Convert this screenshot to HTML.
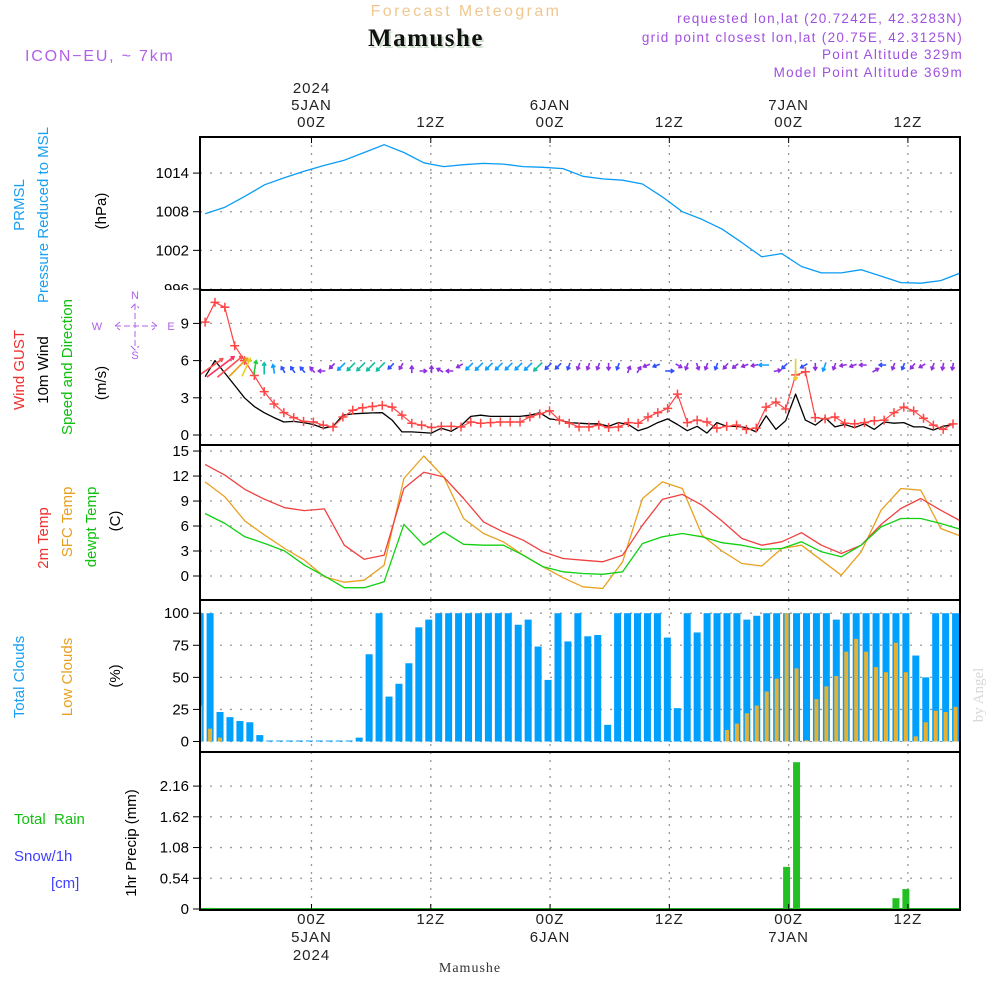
<!DOCTYPE html>
<html><head><meta charset="utf-8"><title>Forecast Meteogram Mamushe</title>
<style>
html,body{margin:0;padding:0;background:#fff;}
svg{display:block;}
text{font-family:"Liberation Sans",sans-serif;}
</style></head>
<body>
<svg id="chart" xmlns="http://www.w3.org/2000/svg" width="1000" height="1000" viewBox="0 0 1000 1000">
<defs><clipPath id="plotclip"><rect x="200" y="130" width="760" height="790"/></clipPath></defs>
<!-- header -->
<text x="466" y="16" text-anchor="middle" font-size="16" fill="#f0c890" letter-spacing="2.4">Forecast Meteogram</text>
<text x="428" y="48" text-anchor="middle" font-size="25" font-weight="bold" fill="#cfe0cf" letter-spacing="1.5" style="font-family:'Liberation Serif',serif">Mamushe</text>
<text x="426" y="46" text-anchor="middle" font-size="25" font-weight="bold" fill="#111" letter-spacing="1.5" style="font-family:'Liberation Serif',serif">Mamushe</text>
<text x="25" y="61" font-size="16" fill="#b060e8" letter-spacing="1.8">ICON−EU, ~ 7km</text>
<g fill="#a050e0" font-size="13.5" text-anchor="end" letter-spacing="1.3">
<text x="963" y="23">requested lon,lat (20.7242E, 42.3283N)</text>
<text x="963" y="42">grid point closest lon,lat (20.75E, 42.3125N)</text>
<text x="963" y="59">Point Altitude 329m</text>
<text x="963" y="77">Model Point Altitude 369m</text>
</g>
<!-- left titles -->
<g font-size="15">
<text transform="translate(24,205) rotate(-90)" text-anchor="middle" fill="#19a0f0">PRMSL</text>
<text transform="translate(48,215) rotate(-90)" text-anchor="middle" fill="#19a0f0">Pressure Reduced to MSL</text>
<text transform="translate(106,211) rotate(-90)" text-anchor="middle" fill="#000">(hPa)</text>
<text transform="translate(24,370) rotate(-90)" text-anchor="middle" fill="#f03030">Wind GUST</text>
<text transform="translate(48,370) rotate(-90)" text-anchor="middle" fill="#000">10m Wind</text>
<text transform="translate(72,367) rotate(-90)" text-anchor="middle" fill="#10c010">Speed and Direction</text>
<text transform="translate(106,383) rotate(-90)" text-anchor="middle" fill="#000">(m/s)</text>
<text transform="translate(48,538) rotate(-90)" text-anchor="middle" fill="#f03030">2m Temp</text>
<text transform="translate(72,522) rotate(-90)" text-anchor="middle" fill="#e8a020">SFC Temp</text>
<text transform="translate(96,527) rotate(-90)" text-anchor="middle" fill="#10c010">dewpt Temp</text>
<text transform="translate(120,521) rotate(-90)" text-anchor="middle" fill="#000">(C)</text>
<text transform="translate(24,677) rotate(-90)" text-anchor="middle" fill="#19a0f0">Total Clouds</text>
<text transform="translate(72,677) rotate(-90)" text-anchor="middle" fill="#e8a020">Low Clouds</text>
<text transform="translate(120,676) rotate(-90)" text-anchor="middle" fill="#000">(%)</text>
<text x="14" y="824" fill="#10c010" xml:space="preserve">Total  Rain</text>
<text x="14" y="861" fill="#4040ff">Snow/1h</text>
<text x="51" y="888" fill="#4040ff">[cm]</text>
<text transform="translate(136,843) rotate(-90)" text-anchor="middle" fill="#000">1hr Precip (mm)</text>
</g>
<!-- compass -->
<g fill="#b060e8" stroke="none" font-size="11">
<text x="135" y="299" text-anchor="middle">N</text>
<text x="135" y="359" text-anchor="middle">S</text>
<text x="97" y="330" text-anchor="middle">W</text>
<text x="171" y="330" text-anchor="middle">E</text>
<path d="M115 326 H157 M135 304 V350 M120 322 L115 326 L120 330 M152 322 L157 326 L152 330 M131 308 L135 304 L139 308 M131 346 L135 350 L139 346" stroke="#b060e8" stroke-width="1" fill="none" stroke-dasharray="6,3"/>
</g>
<text transform="translate(983,695) rotate(-90)" text-anchor="middle" font-size="15" fill="#d8d8d8" style="font-family:'Liberation Serif',serif">by Angel</text>
<text x="470" y="972" text-anchor="middle" font-size="14" style="font-family:'Liberation Serif',serif" fill="#333" letter-spacing="1">Mamushe</text>
<g id="grid"></g>
<g id="marks" clip-path="url(#plotclip)"></g>
<g id="frames"></g>
<g id="labels"></g>
</svg>
<script>
// ---- data ----
const pressVals=[1007.7,1008.7,1010.4,1012.2,1013.3,1014.3,1015.2,1016,1017.2,1018.4,1017.2,1015.6,1015,1015.3,1015.5,1015.4,1015,1014.9,1014.7,1013.5,1013.1,1012.9,1012.3,1010.3,1008,1006.8,1005.3,1003.2,1001,1001.5,999.5,998.5,998.5,999,998,997,996.9,997.3,998.5];
const temp2m=[13.4,12.1,10.4,9.2,8.2,7.85,8.05,3.7,2.0,2.5,10.5,12.45,11.9,9.3,6.5,5.3,4.3,2.9,2.1,1.9,1.7,2.5,6.1,9.2,9.8,8.5,6.6,4.5,3.7,4.1,5.2,3.7,2.7,3.7,6.2,8.1,9.3,7.9,6.6];
const tempSfc=[11.3,9.5,6.6,4.9,3.3,1.9,-0.1,-0.75,-0.5,1.3,11.7,14.4,11.9,6.9,5.1,4.1,2.5,1.1,-0.2,-1.3,-1.5,1.7,9.3,11.3,10.5,4.9,3.0,1.5,1.2,3.3,3.7,1.9,0.1,2.9,7.9,10.5,10.3,5.7,4.8];
const tempDew=[7.5,6.3,4.7,3.9,3.0,1.3,0.0,-1.4,-1.4,-0.7,6.2,3.7,5.3,3.8,3.7,3.7,2.5,1.1,0.5,0.3,0.2,0.5,3.9,4.7,5.1,4.7,4.0,3.7,3.2,3.3,4.1,2.9,2.3,3.7,5.9,6.9,6.9,6.3,5.6];
const gustVals=[9.1,10.7,10.3,7.2,6.0,4.8,3.5,2.5,1.8,1.4,1.1,1.05,0.8,0.65,1.45,2.0,2.2,2.3,2.4,2.25,1.6,0.95,0.8,0.6,0.7,0.7,0.65,1.05,0.95,1.0,1.05,1.05,1.05,1.45,1.7,1.95,1.2,0.95,0.65,0.65,0.8,0.6,0.65,1.0,0.95,1.45,1.8,2.15,3.3,1.0,1.2,1.05,0.55,0.7,0.8,0.45,0.55,2.25,2.65,2.1,4.85,5.1,1.4,1.3,1.45,0.95,0.9,1.0,1.15,1.2,1.8,2.25,1.95,1.35,0.8,0.45,0.9];
const windVals=[4.7,6.0,5.0,4.0,3.0,2.3,1.8,1.4,1.05,1.1,1.0,0.85,0.55,0.7,1.6,1.7,1.75,1.78,1.8,1.2,0.25,0.25,0.2,0.15,0.55,0.3,0.75,1.5,1.6,1.5,1.5,1.5,1.5,1.6,1.8,1.3,1.2,1.0,0.95,0.9,0.9,0.7,1.0,0.85,0.35,0.6,1.0,1.3,0.85,0.35,0.7,0.15,1.0,0.7,0.7,0.6,0.25,1.55,0.45,1.15,3.3,1.2,0.8,1.4,0.65,0.85,0.6,0.9,0.45,1.05,0.95,1.0,0.65,0.65,0.4,0.7,0.85];
const windDir=[55,53,50,45,25,10,0,-10,-30,-35,-40,-40,-90,-135,225,225,225,225,225,225,-150,0,90,0,-60,-90,-120,225,225,225,225,225,225,225,225,225,225,200,200,200,200,180,200,20,30,250,250,90,120,200,160,200,200,220,230,250,260,270,80,225,180,240,180,200,200,260,250,270,60,270,200,200,220,240,200,190,190];
const cloudTotal=[100,100,23,19,16,15,5,0,0,0,0,0,0,0,0,0,3,68,100,35,45,61,89,95,100,100,100,100,100,100,100,100,91,95,74,48,100,78,100,82,83,13,100,100,100,100,100,81,26,100,85,100,100,100,100,95,98,100,100,100,100,100,100,100,95,100,100,100,100,100,100,100,67,50,100,100,100];
const cloudLow=[28,10,3,0,0,0,0,0,0,0,0,0,0,0,0,0,0,0,0,0,0,0,0,0,0,0,0,0,0,0,0,0,0,0,0,0,0,0,0,0,0,0,0,0,0,0,0,0,0,0,0,0,0,9,14,22,28,39,49,100,57,1,33,43,51,70,80,70,58,54,77,54,4,15,24,23,27];
const precipVals=[0,0.02,0,0,0,0,0,0,0,0,0,0,0,0,0,0,0,0,0,0,0,0,0,0,0,0,0,0,0,0,0,0,0,0,0,0,0,0,0,0,0,0,0,0,0,0,0,0,0,0,0,0,0,0,0,0,0,0,0,0.74,2.58,0,0,0,0,0,0,0,0,0,0.19,0.35,0,0,0,0,0];
const pressTicks=[996,1002,1008,1014];
const windTicks=[0,3,6,9];
const tempTicks=[0,3,6,9,12,15];
const cloudTicks=[0,25,50,75,100];
const precipTicks=[0,0.54,1.08,1.62,2.16];
const timeTickHours=[0,12,24,36,48,60];
const timeTickTop=[["2024","5JAN","00Z"],["12Z"],["6JAN","00Z"],["12Z"],["7JAN","00Z"],["12Z"]];
const timeTickBottom=[["00Z","5JAN","2024"],["12Z"],["00Z","6JAN"],["12Z"],["00Z","7JAN"],["12Z"]];

// ---- scales ----
const START=-10.7;
const X=t=>311.5+9.94*t;
const lineT=i=>START+i*2;
const hourT=i=>START+i*0.99;
const barT=i=>START+i;
const Yp=v=>289-(v-996)*6.44;
const Yw=v=>435-v*12.4;
const Yt=v=>576-v*8.33;
const Yc=v=>741.5-v*1.283;
const Yr=v=>909-v*56.9;
const panels=[
 {name:'pressure',top:137,bot:290,ticks:pressTicks,y:Yp,fmt:v=>String(v)},
 {name:'wind',top:290,bot:445,ticks:windTicks,y:Yw,fmt:v=>String(v)},
 {name:'temperature',top:445,bot:600,ticks:tempTicks,y:Yt,fmt:v=>String(v)},
 {name:'clouds',top:600,bot:752,ticks:cloudTicks,y:Yc,fmt:v=>String(v)},
 {name:'precip',top:752,bot:910,ticks:precipTicks,y:Yr,fmt:v=>v===0?'0':v.toFixed(2)}
];
const NS='http://www.w3.org/2000/svg';
function mk(tag,attrs,parent){const e=document.createElementNS(NS,tag);for(const k in attrs)e.setAttribute(k,attrs[k]);parent.appendChild(e);return e;}
const grid=document.getElementById('grid'),marks=document.getElementById('marks'),frames=document.getElementById('frames'),labels=document.getElementById('labels');

panels.forEach(p=>{
 timeTickHours.forEach(h=>{
  const l=mk('line',{x1:X(h),x2:X(h),y1:p.top,y2:p.bot,stroke:'#999','stroke-width':1.3,'stroke-dasharray':'2,6'},grid);
  
  
 });
 p.ticks.forEach(v=>{
  const y=p.y(v);
  const l=mk('line',{x1:200,x2:960,y1:y,y2:y,stroke:'#999','stroke-width':1.3,'stroke-dasharray':'2,8'},grid);
  
  
  mk('line',{x1:193,x2:200,y1:y,y2:y,stroke:'#000','stroke-width':1},frames);
  const t=mk('text',{x:189,y:y+5,'text-anchor':'end','font-size':15,fill:'#000'},labels);
  t.textContent=p.fmt(v);
  
  
 });
 const r=mk('rect',{x:200,y:p.top,width:760,height:p.bot-p.top,fill:'none',stroke:'#000','stroke-width':2},frames);
 
 
});
mk('rect',{x:150,y:290,width:45,height:6,fill:'#fff'},labels);

timeTickHours.forEach((h,i)=>{
 const x=X(h);
 const top=timeTickTop[i];
 top.forEach((s,j)=>{
  const t=mk('text',{x:x,y:127-(top.length-1-j)*17,'text-anchor':'middle','font-size':15,fill:'#222','letter-spacing':1},labels);
  t.textContent=s;
  
  
 });
 mk('line',{x1:x,x2:x,y1:137,y2:143,stroke:'#000'},frames);
 timeTickBottom[i].forEach((s,j)=>{
  const t=mk('text',{x:x,y:924+j*18,'text-anchor':'middle','font-size':15,fill:'#222','letter-spacing':1},labels);
  t.textContent=s;
  
  
 });
 mk('line',{x1:x,x2:x,y1:904,y2:910,stroke:'#000'},frames);
});

function poly(vals,tf,yf,color,w,name){
 const pts=vals.map((v,i)=>X(tf(i)).toFixed(1)+','+yf(v).toFixed(1)).join(' ');
 const pl=mk('polyline',{points:pts,fill:'none',stroke:color,'stroke-width':w,'stroke-linejoin':'round'},marks);
 
 
}
poly(pressVals,lineT,Yp,'#0a9cf5',1.3,'pressure-line');
poly(windVals,hourT,Yw,'#000',1.3,'wind-speed-line');
poly(gustVals,hourT,Yw,'#f44',1.2,'wind-gust-line');
gustVals.forEach((v,i)=>{
 const x=X(hourT(i)),y=Yw(v);
 const g=mk('path',{d:`M${x-4.5} ${y}H${x+4.5}M${x} ${y-4.5}V${y+4.5}`,stroke:'#f44','stroke-width':1.5},marks);
 
 
});
function arrowColor(s){
 if(s>=5.5)return'#ff3060'; if(s>=4.5)return'#ff5050'; if(s>=3.8)return'#f0a020'; if(s>=2.8)return'#e8d020';
 if(s>=2.1)return'#20d040'; if(s>=1.7)return'#10c0a0'; if(s>=1.4)return'#10a0ff'; if(s>=1.0)return'#3050ff'; return'#9030e0';
}
windDir.forEach((d,i)=>{
 const s=windVals[i]; const x=X(hourT(i));
 const L=Math.max(7,Math.min(34,6.5*s));
 const a=d*Math.PI/180;
 const dx=Math.sin(a)*L, dy=-Math.cos(a)*L;
 const x0=x-dx*0.3, y0=368-dy*0.3+ (dy<0?3:-3);
 const x1=x0+dx, y1=y0+dy;
 const ha=3.5, ang=Math.atan2(dy,dx);
 const p1x=x1-ha*Math.cos(ang-0.6), p1y=y1-ha*Math.sin(ang-0.6);
 const p2x=x1-ha*Math.cos(ang+0.6), p2y=y1-ha*Math.sin(ang+0.6);
 const col=arrowColor(s);
 const g=mk('path',{d:`M${x0.toFixed(1)} ${y0.toFixed(1)}L${x1.toFixed(1)} ${y1.toFixed(1)}M${p1x.toFixed(1)} ${p1y.toFixed(1)}L${x1.toFixed(1)} ${y1.toFixed(1)}L${p2x.toFixed(1)} ${p2y.toFixed(1)}`,stroke:col,'stroke-width':1.6,fill:'none'},marks);
 
 
});
poly(tempSfc,lineT,Yt,'#e8a020',1.3,'sfc-temp-line');
poly(temp2m,lineT,Yt,'#f04040',1.3,'2m-temp-line');
poly(tempDew,lineT,Yt,'#10d010',1.3,'dewpoint-line');
cloudTotal.forEach((v,i)=>{
 const c=X(barT(i))-5;
 const y=Yc(v);
 const r=mk('rect',{x:c-3.5,y:Math.min(y,Yc(0)-1),width:7,height:Math.max(1,Yc(0)-y),fill:'#00a0ff'},marks);
 
 
});
cloudLow.forEach((v,i)=>{
 if(v<=0)return;
 const c=X(barT(i))-5;
 const y=Yc(v);
 const r=mk('rect',{x:c-2,y:y,width:4,height:Yc(0)-y,fill:'#e8b030'},marks);
 
 
});
mk('line',{x1:200,x2:960,y1:908.5,y2:908.5,stroke:'#2a2',"stroke-width":1},marks);
precipVals.forEach((v,i)=>{
 if(v<=0)return;
 const c=X(barT(i))-5;
 const y=Yr(v);
 const r=mk('rect',{x:c-3.5,y:y,width:7,height:Yr(0)-y,fill:'#22c022'},marks);
 
 
});
</script>
</body></html>
